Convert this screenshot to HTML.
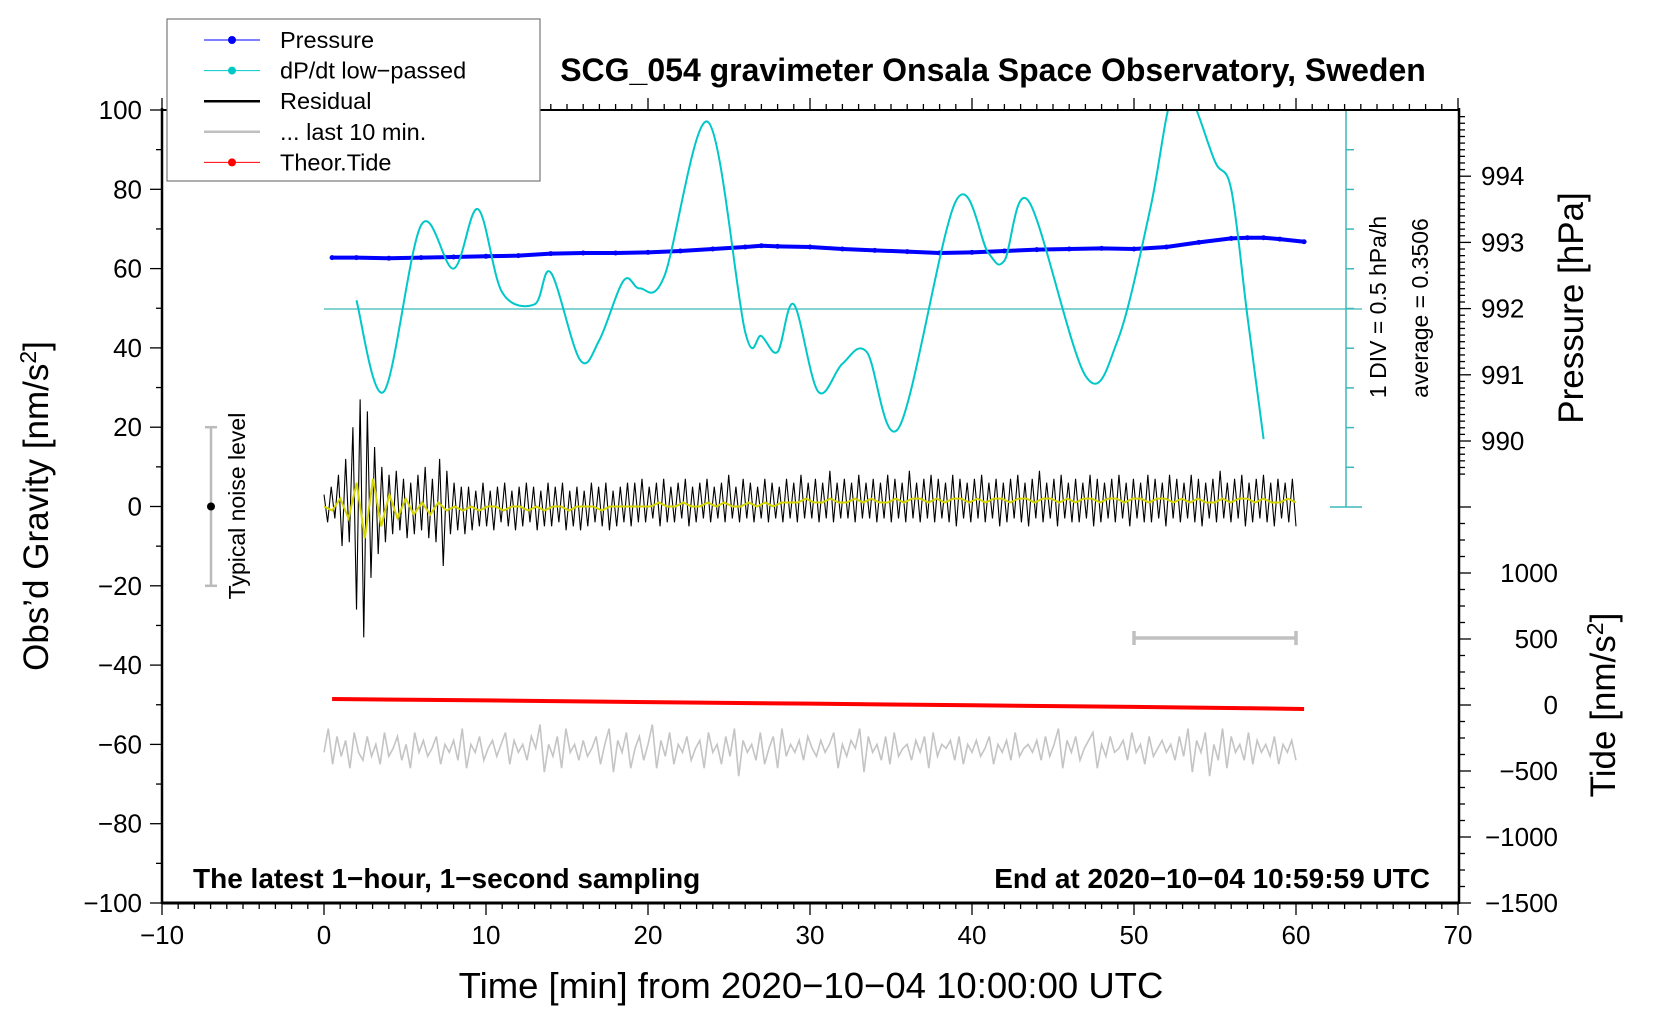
<!DOCTYPE html>
<html><head><meta charset="utf-8"><style>
html,body{margin:0;padding:0;background:#fff;}
svg{display:block;font-family:"Liberation Sans",sans-serif;}
</style></head><body>
<svg id="c" width="1660" height="1020" viewBox="0 0 1660 1020" xmlns="http://www.w3.org/2000/svg"></svg>
<script>
// ---- data ----
const xTicks=[-10,0,10,20,30,40,50,60,70];
const yTicks=[-100,-80,-60,-40,-20,0,20,40,60,80,100];
const pTicks=[990,991,992,993,994];
const tideTicks=[-1500,-1000,-500,0,500,1000];
const resStart=0, resEnd=60;
// pressure [hPa] samples, t in minutes
const pressT=[0.5,2,4,6,8,10,12,14,16,18,20,22,24,26,27,28,30,32,34,36,38,40,42,44,46,48,50,52,54,56,57,58,59,60.5];
const pressV=[992.77,992.77,992.76,992.77,992.78,992.79,992.8,992.83,992.84,992.84,992.85,992.87,992.9,992.93,992.95,992.94,992.93,992.9,992.88,992.86,992.84,992.85,992.87,992.89,992.9,992.91,992.9,992.93,993.0,993.06,993.07,993.07,993.05,993.01];
// dP/dt low-passed (plotted in left-axis units)
const dpT=[2,3.7,6,8,9.5,11,13,14,15.8,17,18.5,19.5,21,23.7,26,27,28,29,30.5,32,33.5,35.5,39,41,42,43.5,47,49,51,52.3,53.5,55,56,57,58];
const dpV=[52,29,71,60,75,54,51,59,37,42,57,55,58,97,44,43,39,51,29,36,39,20,77,64,62,77,33,42,75,103,103,87,80,48,17];
// residual [nm/s^2], evenly spread over 0..60 min
const resid=[3,-4,5,-3, 8,-10,12,-9, 20,-26,27,-33, 24,-18,15,-12, 10,-9,8,-7, 9,-6,7,-8, 6,-7,8,-6, 10,-8,7,-9, 12,-15,9,-7, 6,-6,5,-7,
5,-6,4,-5,6,-5,4,-6,5,-4,6,-5,4,-6,5,-5,6,-4,5,-6,4,-5,6,-5,5,-4,6,-6,4,-5,5,-6,4,-5,6,-4,5,-5,6,-6,4,-5,5,-4,6,-5,
6,-4,7,-4,5,-3,6,-5,7,-4,5,-4,6,-3,7,-5,5,-4,6,-3,7,-4,5,-3,6,-4,8,-3,5,-4,7,-3,6,-4,5,-3,7,-4,6,-3,5,-4,
7,-3,6,-4,8,-3,6,-3,7,-4,6,-3,9,-4,6,-3,7,-3,6,-4,8,-3,6,-3,7,-4,6,-3,8,-4,7,-3,6,-4,9,-3,6,-4,7,-3,8,-4,
7,-3,6,-4,8,-5,7,-3,6,-4,7,-3,8,-4,6,-3,7,-5,6,-4,
7,-3,8,-4,6,-5,7,-3,9,-4,6,-3,7,-5,8,-3,6,-4,7,-4,6,-3,8,-5,7,-4,6,-3,7,-4,8,-3,6,-5,7,-3,6,-4,8,-4,
7,-3,6,-5,8,-3,7,-4,6,-3,8,-4,7,-5,6,-3,7,-4,9,-3,6,-4,7,-3,8,-5,6,-4,7,-3,8,-4,6,-5,7,-3,6,-4,7,-5];
// smoothed residual, evenly spread over 0..60 min
const smooth=[0,-1,2,-3,6,-8,7,-5,3,-3,2,-2,1,-2,1,-1,0,-1,0,-1,0,0,-1,0,0,-1,0,-1,0,0,-1,0,0,0,-1,0,0,0,0,0,
0,1,0,0,1,0,0,1,0,1,0,0,1,0,1,0,1,1,1,2,1,1,2,1,1,2,1,2,1,1,2,1,2,2,1,2,1,2,2,1,
2,1,2,2,1,2,2,1,2,2,1,2,1,2,2,1,2,2,1,2,2,1,2,2,1,2,1,2,1,1,2,1,2,2,1,2,1,1,2,1];
// last 10 min residual stretched over 0..60 min
const last10=[-62,-56,-65,-58,-63,-59,-66,-57,-62,-64,-58,-63,-60,-65,-57,-63,-61,-58,-64,-60,-66,-57,-62,-59,-63,-61,-58,-65,-60,-62,
-59,-64,-56,-66,-60,-62,-58,-64,-61,-59,-63,-60,-57,-65,-59,-62,-60,-64,-58,-61,-55,-67,-60,-63,-58,-66,-56,-62,-60,-64,
-59,-63,-61,-58,-65,-60,-56,-67,-59,-62,-57,-66,-61,-58,-64,-60,-55,-66,-59,-63,-57,-65,-60,-62,-58,-64,-61,-59,-66,-57,
-62,-60,-65,-58,-63,-56,-68,-59,-62,-60,-64,-57,-65,-61,-58,-66,-56,-63,-60,-62,-59,-64,-58,-61,-63,-59,-62,-60,-57,-66,
-60,-63,-59,-61,-56,-67,-58,-62,-60,-64,-58,-65,-57,-63,-61,-60,-64,-59,-62,-58,-66,-57,-63,-60,-61,-59,-64,-58,-65,-60,
-62,-59,-63,-61,-58,-65,-60,-62,-59,-64,-57,-63,-61,-60,-62,-59,-64,-58,-63,-60,-56,-66,-59,-62,-58,-64,-61,-59,-57,-66,
-60,-63,-58,-62,-61,-59,-64,-57,-62,-60,-65,-58,-63,-61,-59,-62,-60,-64,-58,-63,-56,-67,-59,-62,-57,-68,-60,-64,-56,-66,
-58,-62,-60,-64,-57,-65,-59,-62,-60,-63,-58,-65,-60,-62,-59,-64];
// theoretical tide [nm/s^2]
const tideT=[0.5,10,20,30,40,50,60.5];
const tideV=[45,35,22,10,-2,-14,-30];

// ---- axes ----
const X=t=>162+(t+10)*16.2;
const Y=v=>506.5-v*3.965;
const YP=p=>441-(p-990)*66.2;
const YT=g=>705-g*0.132;
const tOf=(i,n)=>resStart+(resEnd-resStart)*i/(n-1);
const svg=document.getElementById('c');
const NS='http://www.w3.org/2000/svg';
function mk(tag,attrs,parent){const e=document.createElementNS(NS,tag);for(const k in attrs)e.setAttribute(k,attrs[k]);(parent||svg).appendChild(e);return e;}
function txt(s,attrs,parent){const e=mk('text',attrs,parent);e.textContent=s;return e;}
function smoothPath(xs,ys){let d='M'+xs[0]+','+ys[0];for(let i=0;i<xs.length-1;i++){const x0=xs[i-1]??xs[i],y0=ys[i-1]??ys[i],x1=xs[i],y1=ys[i],x2=xs[i+1],y2=ys[i+1],x3=xs[i+2]??x2,y3=ys[i+2]??y2;d+=' C'+(x1+(x2-x0)/6)+','+(y1+(y2-y0)/6)+' '+(x2-(x3-x1)/6)+','+(y2-(y3-y1)/6)+' '+x2+','+y2;}return d;}

const cpth=mk('clipPath',{id:'pc'});
mk('rect',{x:162,y:110,width:1296,height:793},cpth);

// cyan scale bar
const sb=mk('g',{stroke:'#3cb8b8','stroke-width':1.5});

mk('line',{x1:1346,y1:110,x2:1346,y2:507},sb);
mk('line',{x1:1330,y1:110,x2:1362,y2:110},sb);
mk('line',{x1:1330,y1:507,x2:1362,y2:507},sb);
for(let i=1;i<10;i++){const y=110+i*39.7;mk('line',{x1:1346,y1:y,x2:1354,y2:y},sb);}
const zl=mk('line',{x1:X(0),y1:309,x2:1362,y2:309,stroke:'#3cb8b8','stroke-width':1.3});


// last 10 min gray
const gp=mk('polyline',{fill:'none',stroke:'#c4c4c4','stroke-width':1.6,points:last10.map((v,i)=>X(tOf(i,last10.length))+','+Y(v)).join(' ')});

const gb=mk('g',{stroke:'#c0c0c0','stroke-width':3.5});

mk('line',{x1:X(50),y1:638,x2:X(60),y2:638},gb);mk('line',{x1:X(50),y1:631,x2:X(50),y2:645},gb);mk('line',{x1:X(60),y1:631,x2:X(60),y2:645},gb);

// tide
const tp=mk('polyline',{fill:'none',stroke:'#ff0000','stroke-width':4,points:tideT.map((t,i)=>X(t)+','+YT(tideV[i])).join(' ')});


// residual
const rp=mk('polyline',{fill:'none',stroke:'#000','stroke-width':1.1,points:resid.map((v,i)=>X(tOf(i,resid.length))+','+Y(v)).join(' ')});

const yp=mk('polyline',{fill:'none',stroke:'#d4d400','stroke-width':2,points:smooth.map((v,i)=>X(tOf(i,smooth.length))+','+Y(v)).join(' ')});


// pressure
const pg=mk('g',{});

mk('polyline',{fill:'none',stroke:'#0000ff','stroke-width':4,points:pressT.map((t,i)=>X(t)+','+YP(pressV[i])).join(' ')},pg);
pressT.forEach((t,i)=>{const c=mk('circle',{cx:X(t),cy:YP(pressV[i]),r:2.5,fill:'#0000ff'},pg);

});

// dP/dt
const cp=mk('path',{fill:'none',stroke:'#00c8c8','stroke-width':2,'clip-path':'url(#pc)',d:smoothPath(dpT.map(X),dpV.map(Y))});


// noise level
const nl=mk('g',{});

mk('line',{x1:211,y1:Y(20),x2:211,y2:Y(-20),stroke:'#bbb','stroke-width':2.5},nl);
mk('line',{x1:205,y1:Y(20),x2:217,y2:Y(20),stroke:'#bbb','stroke-width':2.5},nl);
mk('line',{x1:205,y1:Y(-20),x2:217,y2:Y(-20),stroke:'#bbb','stroke-width':2.5},nl);
mk('circle',{cx:211,cy:Y(0),r:4,fill:'#000'},nl);
txt('Typical noise level',{x:0,y:0,'font-size':23,'text-anchor':'middle',transform:'translate(245,506) rotate(-90)'},nl);

// frame & ticks
const ax=mk('g',{stroke:'#000'});

mk('line',{x1:162,y1:110,x2:1459,y2:110,'stroke-width':2},ax);
mk('line',{x1:162,y1:903,x2:1459,y2:903,'stroke-width':3},ax);
mk('line',{x1:162,y1:108,x2:162,y2:904,'stroke-width':2.5},ax);
mk('line',{x1:1459,y1:108,x2:1459,y2:904,'stroke-width':2.5},ax);
for(let t=-10;t<=70;t++){const L=t%10===0?12:6;mk('line',{x1:X(t),y1:903,x2:X(t),y2:903+L,'stroke-width':1.3},ax);mk('line',{x1:X(t),y1:110,x2:X(t),y2:110-L,'stroke-width':1.3},ax);}
for(let v=-100;v<=100;v+=10){mk('line',{x1:162,y1:Y(v),x2:162-(v%20===0?12:6),y2:Y(v),'stroke-width':1.3},ax);}
for(let p=989.5;p<=995.01;p+=0.1){const y=YP(p);if(y<110)continue;const m=Math.abs(p-Math.round(p))<0.01;mk('line',{x1:1459,y1:y,x2:1459+(m?12:6),y2:y,'stroke-width':1.3},ax);}
for(let g=-1500;g<=1500;g+=125){const y=YT(g);if(y<507)continue;mk('line',{x1:1459,y1:y,x2:1459+(g%500===0?12:6),y2:y,'stroke-width':1.3},ax);}

const lab=mk('g',{'font-size':26,fill:'#000'});

xTicks.forEach(t=>txt(String(t).replace('-','\u2212'),{x:X(t),y:944,'text-anchor':'middle'},lab));
yTicks.forEach(v=>txt(String(v).replace('-','\u2212'),{x:142,y:Y(v)+9,'text-anchor':'end'},lab));
pTicks.forEach(p=>txt(String(p),{x:1481,y:YP(p)+9},lab));
tideTicks.forEach(g=>txt(String(g).replace('-','\u2212'),{x:1558,y:YT(g)+9,'text-anchor':'end'},lab));

// titles
const t1=txt('SCG_054 gravimeter Onsala Space Observatory, Sweden',{x:993,y:81,'font-size':32,'font-weight':'bold','text-anchor':'middle'});

const t2=txt('Time [min] from 2020\u221210\u221204 10:00:00 UTC',{x:811,y:998,'font-size':36.5,'text-anchor':'middle'});

const t3=mk('text',{x:0,y:0,'font-size':35,'text-anchor':'middle',transform:'translate(48,506) rotate(-90)'});
t3.innerHTML='Obs\u2019d Gravity [nm/s<tspan dy="-12" font-size="23">2</tspan><tspan dy="12">]</tspan>';

const t4=txt('Pressure [hPa]',{x:0,y:0,'font-size':35,'text-anchor':'middle',transform:'translate(1583,308) rotate(-90)'});

const t5=mk('text',{x:0,y:0,'font-size':35,'text-anchor':'middle',transform:'translate(1615,705) rotate(-90)'});
t5.innerHTML='Tide [nm/s<tspan dy="-12" font-size="23">2</tspan><tspan dy="12">]</tspan>';

const t6=txt('1 DIV = 0.5 hPa/h',{x:0,y:0,'font-size':23,'text-anchor':'middle',transform:'translate(1386,307) rotate(-90)'});

const t7=txt('average = 0.3506',{x:0,y:0,'font-size':23,'text-anchor':'middle',transform:'translate(1428,308) rotate(-90)'});

const t8=txt('The latest 1\u2212hour, 1\u2212second sampling',{x:193,y:888,'font-size':28,'font-weight':'bold'});

const t9=txt('End at 2020\u221210\u221204 10:59:59 UTC',{x:1430,y:888,'font-size':28,'font-weight':'bold','text-anchor':'end'});


// legend
const lg=mk('g',{});

mk('rect',{x:167,y:19,width:373,height:162,fill:'#fff',stroke:'#777','stroke-width':1.2},lg);
const legNames=['Pressure','dP/dt low\u2212passed','Residual','... last 10 min.','Theor.Tide'];
const legCol=['#0000ff','#00c8c8','#000','#c0c0c0','#ff0000'];
legNames.forEach((n,i)=>{const y=40+i*30.6;
 const e=mk('g',{},lg);
 
 
 const thick=(i===2||i===3);
 mk('line',{x1:204,y1:y,x2:260,y2:y,stroke:legCol[i],'stroke-width':thick?2.5:1},e);
 if(!thick)mk('circle',{cx:232,cy:y,r:4,fill:legCol[i]},e);
 txt(n,{x:280,y:y+8,'font-size':23.5},e);});
</script>
</body></html>
